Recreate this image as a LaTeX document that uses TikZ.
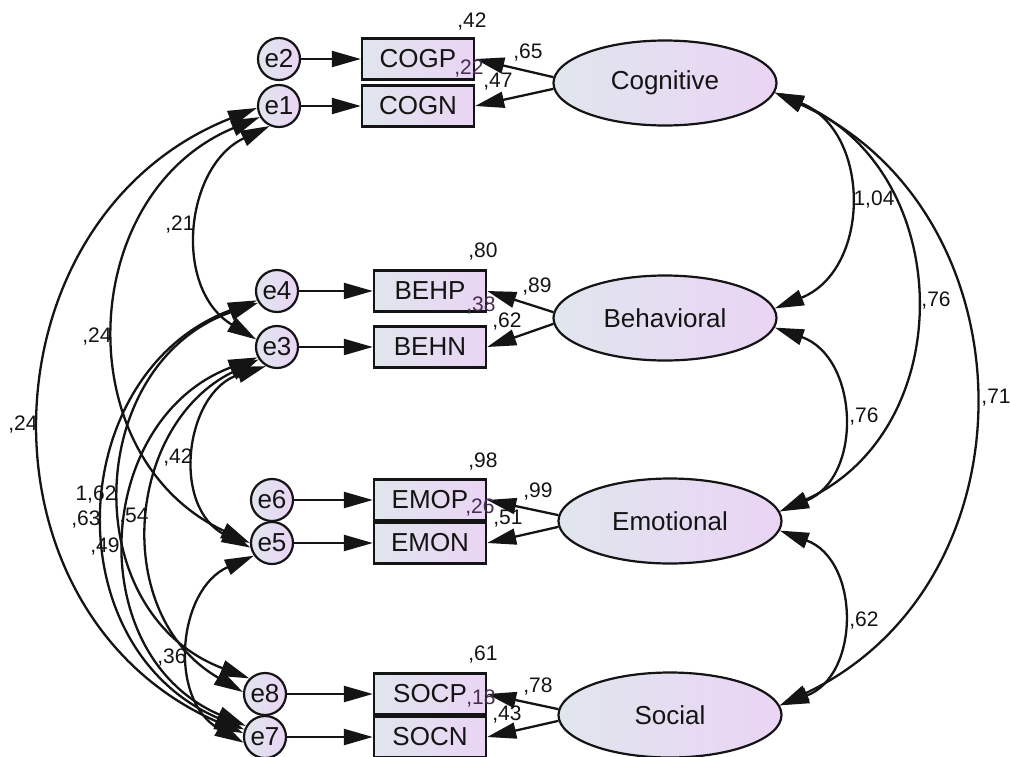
\documentclass[tikz,border=0pt]{standalone}
\usepackage{fontspec}
\setmainfont{Liberation Sans}
\usetikzlibrary{arrows.meta,shapes.geometric}
\definecolor{gl}{RGB}{224,230,238}
\definecolor{gr}{RGB}{234,212,244}
\definecolor{ovl}{RGB}{70,45,80}
\definecolor{ink}{RGB}{20,20,20}
\begin{document}
\begin{tikzpicture}[x=1pt,y=-1pt,
  evar/.style={circle,draw=ink,line width=2.2pt,minimum size=42pt,inner sep=0pt,left color=gl,right color=gr,text=ink,font=\fontsize{26}{26}\selectfont},
  obs/.style={rectangle,draw=ink,line width=2.4pt,minimum width=112pt,minimum height=41pt,inner sep=0pt,left color=gl,right color=gr,text=ink,font=\fontsize{26}{26}\selectfont},
  lat/.style={ellipse,draw=ink,line width=2.2pt,minimum width=223pt,minimum height=85pt,inner sep=0pt,left color=gl,right color=gr,text=ink,font=\fontsize{26}{26}\selectfont},
  num/.style={font=\fontsize{21}{21}\selectfont,inner sep=0pt,text=ink},
  ovnum/.style={num,text=ovl},
  reg/.style={draw=ink,line width=2.3pt,-{Triangle[length=29pt,width=16pt]}},
  cov/.style={draw=ink,line width=2.3pt,{Triangle[length=29pt,width=16pt]}-{Triangle[length=29pt,width=16pt]}},
]
\useasboundingbox[fill=white] (0,0) rectangle (1010,756);

% error variables
\node[evar] (e2) at (279,59) {e2};
\node[evar] (e1) at (279,106) {e1};
\node[evar] (e4) at (277,291) {e4};
\node[evar] (e3) at (277,347) {e3};
\node[evar] (e6) at (272,500) {e6};
\node[evar] (e5) at (272,543) {e5};
\node[evar] (e8) at (265,694) {e8};
\node[evar] (e7) at (265,737) {e7};

% observed
\node[obs] (COGP) at (418,59) {COGP};
\node[obs] (COGN) at (418,106) {COGN};
\node[obs] (BEHP) at (430,291) {BEHP};
\node[obs] (BEHN) at (430,347) {BEHN};
\node[obs] (EMOP) at (430,500) {EMOP};
\node[obs] (EMON) at (430,543) {EMON};
\node[obs] (SOCP) at (430,694) {SOCP};
\node[obs] (SOCN) at (430,737) {SOCN};

% latent
\node[lat] (Cog) at (665,83) {Cognitive};
\node[lat] (Beh) at (665,318) {Behavioral};
\node[lat] (Emo) at (670,521) {Emotional};
\node[lat] (Soc) at (670,715) {Social};

% error -> indicator
\draw[reg] (e2) -- (COGP);
\draw[reg] (e1) -- (COGN);
\draw[reg] (e4) -- (BEHP);
\draw[reg] (e3) -- (BEHN);
\draw[reg] (e6) -- (EMOP);
\draw[reg] (e5) -- (EMON);
\draw[reg] (e8) -- (SOCP);
\draw[reg] (e7) -- (SOCN);

% latent -> indicator
\draw[reg] (Cog.177) -- (COGP.east);
\draw[reg] (Cog.183) -- (COGN.east);
\draw[reg] (Beh.177) -- (BEHP.east);
\draw[reg] (Beh.183) -- (BEHN.east);
\draw[reg] (Emo.177) -- (EMOP.east);
\draw[reg] (Emo.183) -- (EMON.east);
\draw[reg] (Soc.177) -- (SOCP.east);
\draw[reg] (Soc.183) -- (SOCN.east);

% covariances between latents
\draw[cov] (Cog.355) .. controls (871.4,131.3) and (871.4,269.7) .. (Beh.5);
\draw[cov] (Cog.355) .. controls (956.2,170.5) and (961.2,429.2) .. (Emo.5);
\draw[cov] (Cog.355) .. controls (1034.5,211.2) and (1039.5,582.5) .. (Soc.5);
\draw[cov] (Beh.355) .. controls (858.8,357) and (863.8,477.4) .. (Emo.5);
\draw[cov] (Emo.355) .. controls (860.4,560.2) and (860.4,675.8) .. (Soc.5);

% covariances between errors
\draw[cov] (e1.185) .. controls (-19.5,217.3) and (-33.3,611.6) .. (e7.170);
\draw[cov] (e1.210) .. controls (75.8,193.7) and (66.1,457.1) .. (e5.180);
\draw[cov] (e1.245) .. controls (184.9,166.1) and (172.3,288.5) .. (e3.160);
\draw[cov] (e3.240) .. controls (185,391.5) and (170.2,507.3) .. (e5.192);
\draw[cov] (e5.215) .. controls (177.6,589.1) and (167.5,699.7) .. (e7.195);
\draw[cov] (e4.205) .. controls (64.9,372.2) and (52.3,646) .. (e7.160);
\draw[cov] (e4.212) .. controls (84.4,362.9) and (74.7,612.3) .. (e8.135);
\draw[cov] (e3.208) .. controls (92.8,419.4) and (81.2,655.3) .. (e7.150);
\draw[cov] (e3.214) .. controls (125.8,424.2) and (109.6,614.7) .. (e8.175);

% squared multiple correlations
\node[num] (r1) at (472,22) {,42};
\node[num] (r2) at (483,252) {,80};
\node[num] (r3) at (483,462) {,98};
\node[num] (r4) at (483,655) {,61};
\node[ovnum] (r5) at (469,69) {,22};
\node[ovnum] (r6) at (481,306) {,38};
\node[ovnum] (r7) at (480,508) {,26};
\node[ovnum] (r8) at (481,699) {,18};

% loadings
\node[num] (l1) at (528,53) {,65};
\node[num] (l2) at (498,82) {,47};
\node[num] (l3) at (537,287) {,89};
\node[num] (l4) at (507,322) {,62};
\node[num] (l5) at (538,492) {,99};
\node[num] (l6) at (508,519) {,51};
\node[num] (l7) at (538,687) {,78};
\node[num] (l8) at (507,715) {,43};

% latent covariances
\node[num] (c1) at (874,200) {1,04};
\node[num] (c2) at (936,301) {,76};
\node[num] (c3) at (996,398) {,71};
\node[num] (c4) at (864,417) {,76};
\node[num] (c5) at (864,621) {,62};

% error covariances
\node[num] (k1) at (180,225) {,21};
\node[num] (k2) at (97,337) {,24};
\node[num] (k3) at (23,425) {,24};
\node[num] (k4) at (178,458) {,42};
\node[num] (k5) at (96,495) {1,62};
\node[num] (k6) at (86,520) {,63};
\node[num] (k7) at (105,547) {,49};
\node[num] (k8) at (134,517) {,54};
\node[num] (k9) at (172,658) {,36};
\end{tikzpicture}
\end{document}
